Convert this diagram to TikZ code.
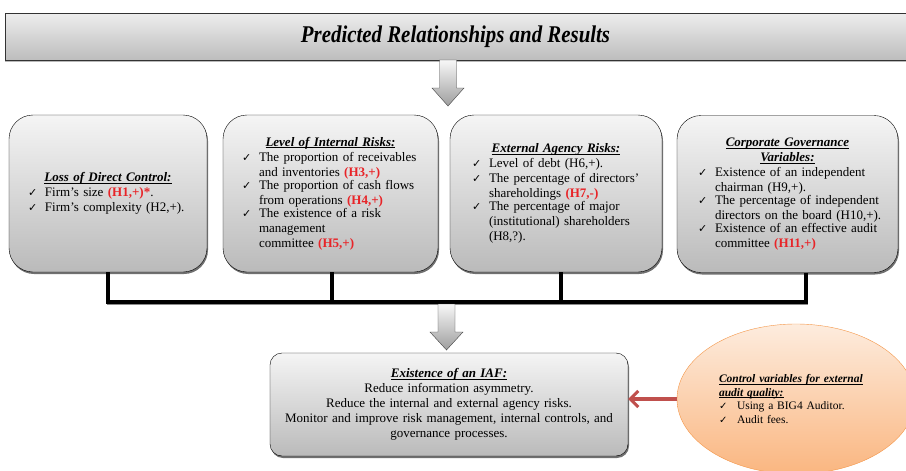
\documentclass[tikz,border=0pt]{standalone}
\usepackage{fontspec}
\setmainfont{Liberation Serif}
\newfontfamily\symfont{DejaVu Sans}
\usepackage{graphicx}
\usepackage{xcolor}
\usetikzlibrary{shapes.geometric,shadows,arrows.meta}
\definecolor{hypred}{RGB}{232,36,40}
\definecolor{arrowred}{RGB}{192,80,77}
\definecolor{peachtop}{RGB}{253,236,222}
\definecolor{peachbot}{RGB}{250,182,128}
\definecolor{peachline}{RGB}{244,150,72}

\newcommand{\hyp}[1]{\textcolor{hypred}{\textbf{#1}}}
\newcommand{\boxtitle}[1]{\leavevmode\setbox0\hbox{\textbf{\textit{#1}}}%
  \rlap{\rule[-1.8pt]{\wd0}{0.8pt}}\box0}
\newcommand{\chk}{\makebox[17pt][l]{\symfont\fontsize{11}{11}\selectfont ✓}}
\newcommand{\chkitem}[1]{\par\noindent\chk\parbox[t]{\linewidth}{#1}}

\tikzset{
  factorbox/.style={draw=black, rounded corners=24pt, top color=black!4, bottom color=black!27,
    minimum height=157pt, align=left, inner sep=0pt,
    font=\fontsize{13}{15}\selectfont,
    drop shadow={shadow xshift=1pt, shadow yshift=-2pt, fill=black!70, opacity=0.8}},
  bar/.style={line width=3.5pt},
  blockarrow/.style={draw=black!75, top color=black!3, bottom color=black!38, line join=miter}
}

\begin{document}
\begin{tikzpicture}[x=1pt, y=-1pt]
  \useasboundingbox (0,0) rectangle (906,471);

  % heading
  \node (title) [draw=black!80, top color=black!7, bottom color=black!26, minimum width=901pt,
    minimum height=47pt, inner sep=0pt,
    drop shadow={shadow xshift=0pt, shadow yshift=-2pt, fill=black!55}]
    at (455.5,36.5) {\fontsize{24}{28}\selectfont\bfseries\itshape\scalebox{0.87}[1]{Predicted Relationships and Results}};

  \draw[blockarrow] (439.5,60) -- (456.5,60) -- (456.5,88) -- (464,88) -- (448,106)
    -- (432,88) -- (439.5,88) -- cycle;

  % the four groups of variables
  \node (box1) [factorbox, minimum width=198pt, text width=160pt] at (108,193.5) {%
    {\centering\boxtitle{Loss of Direct Control:}\par}
    \chkitem{Firm’s size \hyp{(H1,+)*}.}
    \chkitem{Firm’s complexity (H2,+).}};
  \node (box2) [factorbox, minimum width=215pt, text width=177pt] at (330.5,193.5) {%
    {\centering\boxtitle{Level of Internal Risks:}\par}
    \chkitem{The proportion of receivables\\and inventories \hyp{(H3,+)}}
    \chkitem{The proportion of cash flows\\from operations \hyp{(H4,+)}}
    \chkitem{The existence of a risk\\management\\committee \hyp{(H5,+)}}\par\vspace{6pt}};
  \node (box3) [factorbox, minimum width=212pt, text width=168pt] at (556,193.5) {%
    {\centering\boxtitle{External Agency Risks:}\par}
    \chkitem{Level of debt (H6,+).}
    \chkitem{The percentage of directors’\\shareholdings \hyp{(H7,-)}}
    \chkitem{The percentage of major\\(institutional) shareholders\\(H8,?).}};
  \node (box4) [factorbox, minimum width=221pt, text width=179pt] at (787.5,194) {%
    {\centering\boxtitle{Corporate Governance}\\\boxtitle{Variables:}\par}
    \chkitem{Existence of an independent\\chairman (H9,+).}
    \chkitem{The percentage of independent\\directors on the board (H10,+).}
    \chkitem{Existence of an effective audit\\committee \hyp{(H11,+)}}};

  % joining bar
  \coordinate (j1) at (108,302);
  \coordinate (j2) at (332,302);
  \coordinate (j3) at (561,302);
  \coordinate (j4) at (806,302);
  \draw[black!45, line width=1.5pt] (106.5,304.5) -- (807.5,304.5);
  \foreach \i in {1,...,4}
    \draw[bar] (j\i |- box\i.south) -- (j\i);
  \draw[bar, line cap=rect] (j1) -- (j4);

  \draw[blockarrow] (438,304) -- (455,304) -- (455,332) -- (463,332) -- (446.5,350)
    -- (430,332) -- (438,332) -- cycle;

  % result
  \node (iaf) [draw=black, rounded corners=12pt, top color=black!4, bottom color=black!27,
    minimum width=358pt, minimum height=103pt, text width=350pt, align=center, inner sep=0pt,
    font=\fontsize{13}{15}\selectfont,
    drop shadow={shadow xshift=1pt, shadow yshift=-2pt, fill=black!70, opacity=0.8}]
    at (449,404.5) {\boxtitle{Existence of an IAF:}\\Reduce information asymmetry.\\
    Reduce the internal and external agency risks.\\
    Monitor and improve risk management, internal controls, and\\governance processes.};

  % control variables
  \node (ctrl) [ellipse, draw=peachline, top color=peachtop, bottom color=peachbot,
    minimum width=238pt, minimum height=150pt, text width=154pt, align=left, inner sep=0pt,
    font=\fontsize{11.5}{13.5}\selectfont] at (796,399) {%
    \boxtitle{Control variables for external}\\\boxtitle{audit quality:}
    \par\noindent\makebox[18pt][l]{\symfont\fontsize{10}{10}\selectfont ✓}Using a BIG4 Auditor.
    \par\noindent\makebox[18pt][l]{\symfont\fontsize{10}{10}\selectfont ✓}Audit fees.};
  \draw[arrowred, line width=4.5pt, -{Straight Barb[length=8pt, width=16pt, line width=3pt]}]
    (ctrl.west) -- (iaf.east |- ctrl.west);
\end{tikzpicture}
\end{document}
